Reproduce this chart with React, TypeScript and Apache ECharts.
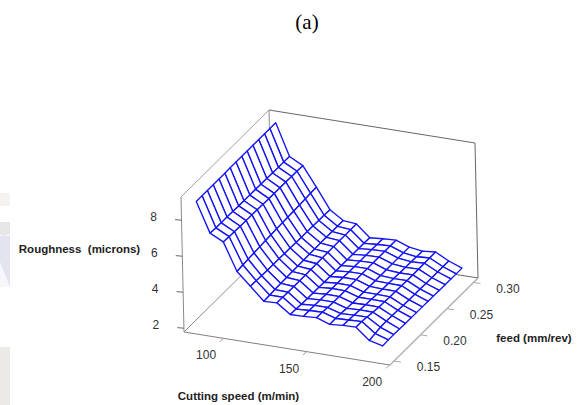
import React, { useEffect, useRef } from "react";
import * as echarts from "echarts";

const titleText = "(a)";
const speedLabel = "Cutting speed (m/min)";
const feedLabel = "feed (mm/rev)";
const roughLabel = "Roughness  (microns)";
const speedTicks = [100, 150, 200];
const feedTicks = [0.15, 0.2, 0.25, 0.3];
const roughTicks = [2, 4, 6, 8];
const speedRange = [76.3, 200.3];
const feedRange = [0.1425, 0.3086];
const roughRange = [1.79, 9.29];

const speeds = [83, 90.9, 98.8, 106.7, 114.6, 122.5, 130.4, 138.3, 146.2, 154.1, 162, 169.9, 177.8, 185.7, 193.6];
const feeds = [0.15, 0.161, 0.171, 0.182, 0.193, 0.204, 0.214, 0.225, 0.236, 0.246, 0.257, 0.268, 0.279, 0.289, 0.3];
// rows follow feeds, columns follow speeds
const roughness = [
  [8.92, 7.28, 6.91, 5.38, 4.68, 3.96, 3.99, 3.46, 3.47, 3.52, 3.26, 3.32, 3.34, 2.72, 2.53],
  [8.92, 7.25, 6.88, 5.42, 4.66, 3.98, 3.98, 3.44, 3.48, 3.5, 3.27, 3.3, 3.33, 2.78, 2.55],
  [8.92, 7.24, 6.86, 5.45, 4.65, 4.0, 3.97, 3.42, 3.47, 3.47, 3.25, 3.28, 3.29, 2.84, 2.55],
  [8.92, 7.24, 6.85, 5.48, 4.64, 4.02, 3.97, 3.41, 3.46, 3.45, 3.22, 3.25, 3.24, 2.86, 2.54],
  [8.92, 7.23, 6.84, 5.5, 4.64, 4.03, 3.97, 3.4, 3.45, 3.44, 3.2, 3.22, 3.2, 2.84, 2.53],
  [8.92, 7.22, 6.84, 5.53, 4.63, 4.04, 3.97, 3.4, 3.45, 3.44, 3.2, 3.2, 3.18, 2.82, 2.53],
  [8.93, 7.22, 6.83, 5.55, 4.62, 4.05, 3.98, 3.39, 3.45, 3.44, 3.19, 3.18, 3.16, 2.8, 2.52],
  [8.93, 7.21, 6.82, 5.57, 4.62, 4.06, 3.98, 3.39, 3.45, 3.45, 3.19, 3.16, 3.15, 2.79, 2.52],
  [8.93, 7.21, 6.81, 5.59, 4.61, 4.07, 3.99, 3.38, 3.44, 3.45, 3.18, 3.15, 3.14, 2.78, 2.51],
  [8.93, 7.2, 6.81, 5.6, 4.6, 4.07, 4.0, 3.38, 3.44, 3.45, 3.18, 3.13, 3.13, 2.78, 2.51],
  [8.93, 7.2, 6.8, 5.62, 4.6, 4.08, 4.0, 3.38, 3.43, 3.45, 3.18, 3.12, 3.13, 2.77, 2.5],
  [8.93, 7.19, 6.8, 5.64, 4.59, 4.08, 4.01, 3.37, 3.43, 3.45, 3.19, 3.11, 3.13, 2.77, 2.5],
  [8.93, 7.18, 6.79, 5.66, 4.58, 4.08, 4.0, 3.37, 3.43, 3.45, 3.19, 3.1, 3.14, 2.77, 2.5],
  [8.93, 7.18, 6.79, 5.68, 4.58, 4.08, 4.01, 3.37, 3.42, 3.46, 3.19, 3.09, 3.14, 2.77, 2.49],
  [8.93, 7.17, 6.78, 5.7, 4.57, 4.08, 4.01, 3.36, 3.42, 3.46, 3.19, 3.08, 3.15, 2.77, 2.49],
];

const frac = (v: number, r: number[]) => (v - r[0]) / (r[1] - r[0]);
const cube = (sf: number, ff: number, zf: number): number[] => [
  184 + 206 * sf + 88 * ff - 3 * zf,
  332 + 33 * sf - 87 * ff - 135 * zf,
];
const project = (s: number, f: number, z: number) =>
  cube(frac(s, speedRange), frac(f, feedRange), frac(z, roughRange));

const BLUE = "#1414f5";
const tickFont = '12px "Liberation Sans"';
const labelFont = 'bold 11.5px "Liberation Sans"';
const tickInk = "#333";

// cells painted from the far corner (high feed, low speed) to the near one
const cells: number[][] = [];
for (let j = feeds.length - 2; j >= 0; j--) {
  for (let i = 0; i < speeds.length - 1; i++) cells.push([i, j]);
}

const edge = (a: number[], b: number[], stroke: string, lineWidth: number, api: any) => {
  const p = api.coord(a);
  const q = api.coord(b);
  return { type: "line", shape: { x1: p[0], y1: p[1], x2: q[0], y2: q[1] }, style: { stroke, lineWidth } };
};
const label = (p: number[], text: string, font: string, api: any, fill = tickInk, align = "center") => {
  const c = api.coord(p);
  return { type: "text", style: { text, x: c[0], y: c[1], font, fill, align, verticalAlign: "middle" } };
};

export default function App() {
  const ref = useRef<HTMLDivElement>(null);
  useEffect(() => {
    const chart = echarts.init(ref.current!, null, { renderer: "svg" });
    const backBox = (_: any, api: any) => {
      const g = "#8a8a8a";
      const d = "#666";
      return {
        type: "group",
        children: [
          edge(cube(0, 0, 1), cube(0, 1, 1), "#a0a0a0", 1, api),
          edge(cube(0, 1, 1), cube(1, 1, 1), d, 1, api),
          edge(cube(1, 1, 1), cube(1, 1, 0), d, 1, api),
          edge(cube(0, 1, 1), cube(0, 1, 0), g, 1, api),
          edge(cube(0, 0, 1), cube(0, 0, 0), g, 1, api),
          edge(cube(0, 1, 0), cube(1, 1, 0), d, 1, api),
          edge(cube(0, 0, 0), cube(0, 1, 0), g, 1, api),
          edge(cube(0, 0, 0), cube(1, 0, 0), "#808080", 1, api),
          edge(cube(1, 0, 0), cube(1, 1, 0), "#b0b0b0", 1.4, api),
        ],
      };
    };
    const ticks = (_: any, api: any) => {
      const kids: any[] = [];
      speedTicks.forEach((v) => {
        const sf = frac(v, speedRange);
        const a = cube(sf, 0, 0);
        kids.push(edge(a, [a[0] - 3.3, a[1] + 3.4], "#999", 1, api));
        kids.push(label([a[0] - 17.3, a[1] + 17], String(v), tickFont, api));
      });
      feedTicks.forEach((v) => {
        const ff = frac(v, feedRange);
        const a = cube(1, ff, 0);
        kids.push(edge(a, [a[0] + 7, a[1] + 1], "#aaa", 1, api));
        kids.push(label([a[0] + 34.5, a[1] + 6], v.toFixed(2), tickFont, api));
      });
      roughTicks.forEach((v) => {
        const a = cube(0, 0, frac(v, roughRange));
        kids.push(edge(a, [a[0] - 6.5, a[1] - 0.6], "#666", 1, api));
        kids.push(label([a[0] - 28, a[1] - 3], String(v), tickFont, api));
      });
      kids.push(label([238.5, 396], speedLabel, labelFont, api, "#222"));
      kids.push(label([534, 338], feedLabel, labelFont, api, "#222"));
      kids.push(label([79.5, 249], roughLabel, labelFont, api, "#222"));
      kids.push(label([307, 22], titleText, '21px "Liberation Serif"', api, "#000"));
      return { type: "group", children: kids };
    };
    const cell = (_: any, api: any) => {
      const i = api.value(0);
      const j = api.value(1);
      const corner = (a: number, b: number) =>
        api.coord(project(speeds[a], feeds[b], roughness[b][a]));
      return {
        type: "polygon",
        shape: { points: [corner(i, j), corner(i + 1, j), corner(i + 1, j + 1), corner(i, j + 1)] },
        style: { fill: "#fff", stroke: BLUE, lineWidth: 1.35, lineJoin: "round" },
      };
    };
    chart.setOption({
      animation: false,
      backgroundColor: "#fff",
      grid: { left: 0, right: 0, top: 0, bottom: 0 },
      xAxis: { type: "value", min: 0, max: 584, show: false },
      yAxis: { type: "value", min: 0, max: 405, inverse: true, show: false },
      graphic: [
        { type: "rect", shape: { x: 0, y: 193, width: 10, height: 13 }, style: { fill: "#f4f3f1" } },
        { type: "rect", shape: { x: 0, y: 222, width: 10, height: 65 }, style: { fill: "#f7f6fa" } },
        { type: "polygon", shape: { points: [[0, 222], [10, 222], [10, 234], [4, 236], [0, 234]] }, style: { fill: "#e6e6e8" } },
        { type: "polygon", shape: { points: [[0, 236], [10, 236], [10, 287], [0, 262]] }, style: { fill: "#e4e4f1" } },
        { type: "rect", shape: { x: 0, y: 347, width: 10, height: 58 }, style: { fill: "#ebeae7" } },
      ],
      series: [
        { type: "custom", coordinateSystem: "cartesian2d", data: [[0, 0]], renderItem: backBox, silent: true, z: 1, clip: false },
        { type: "custom", coordinateSystem: "cartesian2d", data: cells, renderItem: cell, silent: true, z: 2, clip: false },
        { type: "custom", coordinateSystem: "cartesian2d", data: [[0, 0]], renderItem: ticks, silent: true, z: 3, clip: false },
      ],
    });
    return () => chart.dispose();
  }, []);
  return <div ref={ref} style={{ position: "absolute", left: 0, top: 0, width: 584, height: 405 }} />;
}
